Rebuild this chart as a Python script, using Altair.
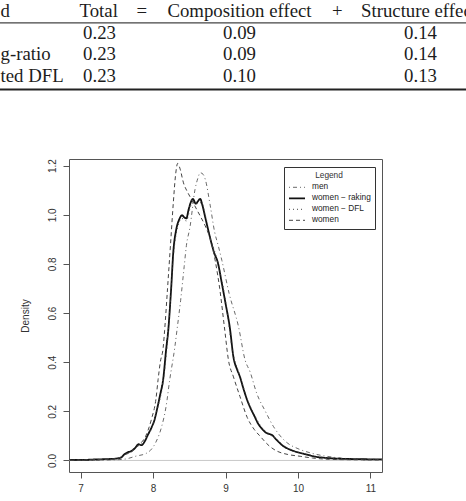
import altair as alt
import pandas as pd

# ---------------- table values ----------------
header = ["d", "Total", "=", "Composition effect", "+", "Structure effect"]
row_labels = ["", "g-ratio", "ted DFL"]
total = ["0.23", "0.23", "0.23"]
composition = ["0.09", "0.09", "0.10"]
structure = ["0.14", "0.14", "0.13"]

# ---------------- density curves (log wage) ----------------
men_x = [6.85, 7.4, 7.6, 7.77, 7.9, 7.96, 8.04, 8.12, 8.18, 8.23, 8.3, 8.33, 8.38,
         8.43, 8.46, 8.51, 8.58, 8.62, 8.65, 8.69, 8.72, 8.79, 8.85, 8.9, 8.95,
         9.05, 9.18, 9.27, 9.34, 9.43, 9.55, 9.66, 9.85, 10.0, 10.17, 10.49,
         10.8, 11.16]
men_y = [0.0, 0.002, 0.005, 0.018, 0.028, 0.04, 0.075, 0.139, 0.22, 0.328, 0.46,
         0.53, 0.65, 0.79, 0.874, 0.95, 1.104, 1.15, 1.171, 1.165, 1.145, 1.036,
         0.93, 0.874, 0.814, 0.68, 0.544, 0.409, 0.36, 0.274, 0.2, 0.139, 0.072,
         0.048, 0.031, 0.013, 0.006, 0.004]

raking_x = [6.85, 7.0, 7.2, 7.4, 7.5, 7.56, 7.6, 7.65, 7.7, 7.75, 7.8, 7.84,
            7.88, 7.93, 7.98, 8.02, 8.06, 8.1, 8.14, 8.18, 8.21, 8.25, 8.28,
            8.32, 8.36, 8.4, 8.43, 8.46, 8.49, 8.52, 8.55, 8.59, 8.62, 8.65,
            8.68, 8.72, 8.76, 8.81, 8.85, 8.89, 8.95, 9.0, 9.06, 9.11, 9.16,
            9.2, 9.25, 9.3, 9.35, 9.4, 9.45, 9.5, 9.55, 9.6, 9.64, 9.7, 9.8,
            9.9, 10.0, 10.12, 10.25, 10.4, 10.5, 10.7, 10.9, 11.16]
raking_y = [0.002, 0.002, 0.004, 0.006, 0.008, 0.012, 0.024, 0.033, 0.038,
            0.05, 0.066, 0.062, 0.075, 0.105, 0.135, 0.165, 0.215, 0.27, 0.33,
            0.45, 0.53, 0.7, 0.85, 0.94, 0.98, 0.998, 0.99, 0.985, 1.02, 1.05,
            1.065, 1.045, 1.055, 1.065, 1.04, 0.99, 0.94, 0.88, 0.84, 0.81,
            0.72, 0.64, 0.54, 0.42, 0.37, 0.34, 0.29, 0.245, 0.21, 0.18, 0.15,
            0.13, 0.115, 0.108, 0.104, 0.085, 0.058, 0.043, 0.033, 0.024,
            0.015, 0.01, 0.008, 0.006, 0.005, 0.004]

dfl_x = [6.85, 7.2, 7.5, 7.6, 7.7, 7.8, 7.9, 7.98, 8.06, 8.14, 8.21, 8.28,
         8.34, 8.4, 8.46, 8.52, 8.57, 8.62, 8.67, 8.72, 8.8, 8.9, 9.0, 9.1,
         9.2, 9.3, 9.4, 9.5, 9.6, 9.7, 9.85, 10.0, 10.2, 10.5, 10.8, 11.16]
dfl_y = [0.002, 0.004, 0.008, 0.022, 0.036, 0.06, 0.09, 0.13, 0.21, 0.32,
         0.52, 0.83, 0.95, 0.985, 0.975, 1.035, 1.05, 1.045, 1.05, 1.0, 0.9,
         0.8, 0.65, 0.44, 0.345, 0.25, 0.185, 0.135, 0.108, 0.088, 0.05,
         0.034, 0.02, 0.009, 0.006, 0.004]

women_x = [6.85, 7.2, 7.5, 7.6, 7.7, 7.8, 7.9, 7.98, 8.04, 8.07, 8.1, 8.14,
           8.16, 8.2, 8.24, 8.28, 8.31, 8.34, 8.37, 8.42, 8.48, 8.53, 8.6,
           8.66, 8.72, 8.81, 8.86, 8.92, 8.99, 9.04, 9.11, 9.2, 9.3, 9.4,
           9.48, 9.6, 9.71, 9.85, 10.03, 10.2, 10.4, 10.7, 11.16]
women_y = [0.001, 0.003, 0.007, 0.022, 0.035, 0.062, 0.1, 0.17, 0.25, 0.33,
           0.4, 0.46, 0.53, 0.7, 0.874, 1.05, 1.16, 1.209, 1.19, 1.13, 1.09,
           1.063, 1.023, 0.99, 0.955, 0.88, 0.81, 0.7, 0.53, 0.41, 0.34, 0.26,
           0.175, 0.125, 0.098, 0.06, 0.038, 0.025, 0.017, 0.01, 0.005, 0.003,
           0.002]

series_names = ["men", "women \u2212 raking", "women \u2212 DFL", "women"]
series_xy = [(men_x, men_y), (raking_x, raking_y), (dfl_x, dfl_y), (women_x, women_y)]

rows = []
for name, (xs, ys) in zip(series_names, series_xy):
    for i, (xv, yv) in enumerate(zip(xs, ys)):
        rows.append({"series": name, "x": xv, "y": yv, "order": i})
curves = pd.DataFrame(rows)

# ---------------- layout ----------------
W, H = 466, 501
PL, PT, PW, PH = 69, 159, 313, 313
sans = "Liberation Sans"
serif = "Liberation Serif"

x_scale = alt.Scale(domain=[6.84, 11.16], nice=False, zero=False)
y_scale = alt.Scale(domain=[-0.047, 1.227], nice=False, zero=False)

zero_line = alt.Chart(pd.DataFrame({"y": [0]})).mark_rule(
    color="#c8c8c8", strokeWidth=1
).encode(y=alt.Y("y:Q", scale=y_scale))

lines = alt.Chart(curves).mark_line(interpolate="monotone").encode(
    x=alt.X("x:Q", scale=x_scale,
            axis=alt.Axis(values=[7, 8, 9, 10, 11], title=None, grid=False,
                          domain=False, tickSize=6, tickColor="#555",
                          labelFont=sans, labelFontSize=10, labelColor="#333",
                          labelPadding=5, format="d")),
    y=alt.Y("y:Q", scale=y_scale,
            axis=alt.Axis(values=[0, 0.2, 0.4, 0.6, 0.8, 1.0, 1.2], format=".1f",
                          title="Density", titleFont=sans, titleFontSize=10,
                          titleFontWeight="normal", titleColor="#333",
                          titlePadding=17, grid=False, domain=False, tickSize=6,
                          tickColor="#555", labelFont=sans, labelFontSize=10,
                          labelColor="#333", labelAngle=270, labelAlign="center",
                          labelBaseline="bottom", labelPadding=6)),
    color=alt.Color("series:N",
                    scale=alt.Scale(domain=series_names,
                                    range=["#6a6a6a", "#111111", "#444444", "#444444"]),
                    legend=alt.Legend(title="Legend", orient="none", legendX=215,
                                      legendY=8, symbolType="stroke", symbolSize=256,
                                      strokeColor="#333", fillColor="white",
                                      padding=4, titleFont=sans, titleFontSize=8.3,
                                      titleFontWeight="normal", titleColor="#333",
                                      titleAnchor="middle", titleAlign="center",
                                      titlePadding=4, clipHeight=8,
                                      labelFont=sans, labelFontSize=8.3,
                                      labelColor="#222", labelOffset=6,
                                      rowPadding=2, cornerRadius=0)),
    strokeDash=alt.StrokeDash("series:N",
                              scale=alt.Scale(domain=series_names,
                                              range=[[1, 3, 4, 3], [1, 0], [1, 3], [4, 3]]),
                              legend=alt.Legend(title="Legend")),
    strokeWidth=alt.StrokeWidth("series:N",
                                scale=alt.Scale(type="ordinal", domain=series_names,
                                                range=[1, 1.8, 1, 1]),
                                legend=alt.Legend(title="Legend")),
    order="order:Q",
)

density = alt.layer(zero_line, lines)

# ---------------- table on top ----------------
tx = alt.Scale(domain=[0, W], range=[-PL, W - PL])
ty = alt.Scale(domain=[0, H], range=[-PT, H - PT])

col_center = [98.7, 141.7, 239.5, 337.3]
val_center = [99.5, 239.5, 420.5]
row_center = [33.3, 54.0, 76.0]
header_y = 11.0

centered = []
for t, cx in zip(header[1:5], col_center):
    centered.append({"text": t, "cx": cx, "cy": header_y})
for r in range(3):
    for vals, cx in zip([total, composition, structure], val_center):
        centered.append({"text": vals[r], "cx": cx, "cy": row_center[r]})

left = [{"text": header[0], "cx": 0.5, "cy": header_y},
        {"text": header[5], "cx": 361.0, "cy": header_y}]
for r in range(3):
    if row_labels[r]:
        left.append({"text": row_labels[r], "cx": 0.5, "cy": row_center[r]})

txt_props = dict(font=serif, fontSize=18.8, color="#1c1c1c", baseline="middle")
table_center = alt.Chart(pd.DataFrame(centered)).mark_text(align="center", **txt_props).encode(
    x=alt.X("cx:Q", scale=tx, axis=None), y=alt.Y("cy:Q", scale=ty, axis=None), text="text:N")
table_left = alt.Chart(pd.DataFrame(left)).mark_text(align="left", **txt_props).encode(
    x=alt.X("cx:Q", scale=tx, axis=None), y=alt.Y("cy:Q", scale=ty, axis=None), text="text:N")

mid_rule = alt.Chart(pd.DataFrame({"x0": [0], "x1": [W], "ry": [22.8]})).mark_rule(
    color="#444", strokeWidth=1.3
).encode(x=alt.X("x0:Q", scale=tx, axis=None), x2="x1:Q",
         y=alt.Y("ry:Q", scale=ty, axis=None))
bottom_rule = alt.Chart(pd.DataFrame({"x0": [0], "x1": [W], "ry": [89.5]})).mark_rule(
    color="#222", strokeWidth=2.2
).encode(x=alt.X("x0:Q", scale=tx, axis=None), x2="x1:Q",
         y=alt.Y("ry:Q", scale=ty, axis=None))

table = alt.layer(mid_rule, bottom_rule, table_center, table_left)

chart = alt.layer(density, table).resolve_scale(
    x="independent", y="independent"
).properties(
    width=PW, height=PH,
    padding={"left": PL, "top": PT, "right": W - PL - PW, "bottom": H - PT - PH},
    autosize=alt.AutoSizeParams(type="none"),
    background="white",
).configure_view(stroke="#555", strokeWidth=1)

chart.save("out.html", embed_options={"renderer": "svg", "actions": False})
